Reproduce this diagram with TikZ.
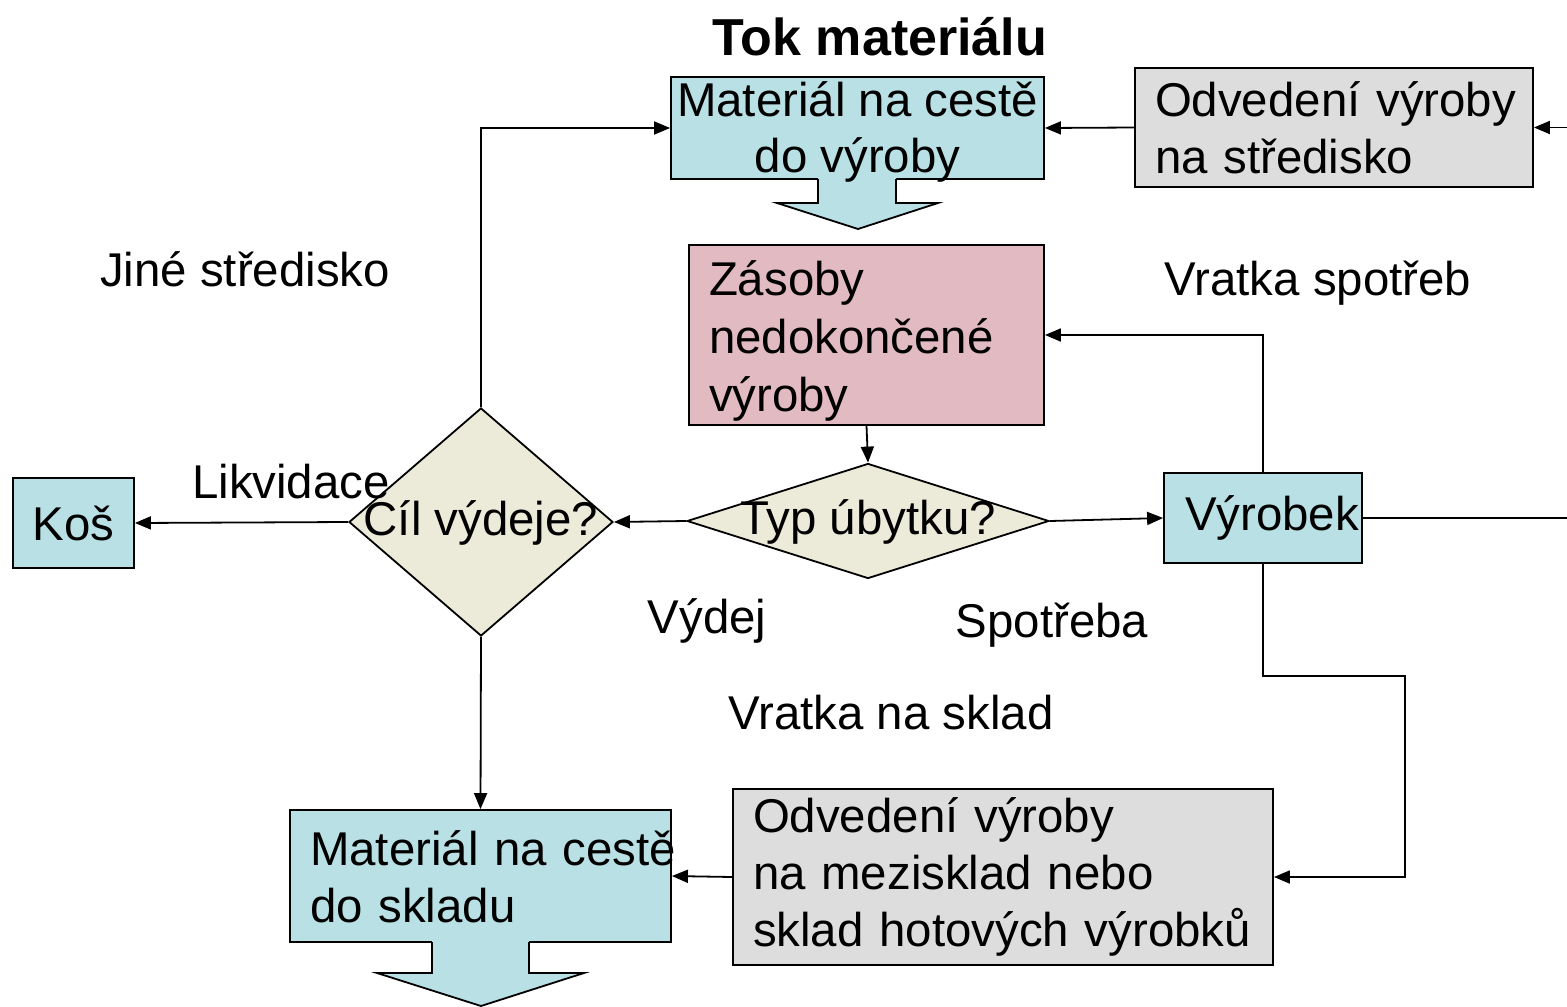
\documentclass[tikz,border=0pt]{standalone}
\usepackage{fontspec}
\setmainfont{Liberation Sans}
\usetikzlibrary{shapes.geometric,arrows.meta}
\definecolor{cblue}{RGB}{185,224,228}
\definecolor{cgray}{RGB}{221,221,221}
\definecolor{cpink}{RGB}{226,186,193}
\definecolor{cdia}{RGB}{236,234,216}
\newcommand\fsz{\fontsize{23.7}{28.4}\selectfont}
\newcommand\fszc{\fontsize{23.7}{29}\selectfont}
\begin{document}
\begin{tikzpicture}[x=0.5pt,y=-0.5pt,
  box/.style={draw, line width=0.9pt, inner ysep=0pt, font=\fsz},
  lbox/.style={box, align=left, inner xsep=10pt},
  cbox/.style={box, align=center, inner xsep=0pt},
  dia/.style={draw, line width=0.9pt, diamond, fill=cdia, inner sep=0pt},
  conn/.style={line width=0.9pt, -{Triangle[length=8pt,width=6.5pt]}},
  plain/.style={line width=0.9pt},
  lbl/.style={font=\fsz, inner sep=0pt}]
\useasboundingbox (0,0) rectangle (1567,1006);
\fill[white] (0,0) rectangle (1567,1006);

% title
\node[font=\fontsize{26}{30}\selectfont\bfseries, inner sep=0pt] (title) at (880,37) {Tok materiálu};

% boxes
\node[cbox, fill=cblue, minimum width=186.5pt, minimum height=51pt] (a) at (857.5,128) {};
\node[lbox, fill=cgray, text width=179pt, minimum height=59.5pt] (b) at (1334,127.5) {\mbox{Odvedení výroby}\\\mbox{na středisko}};
\node[lbox, fill=cpink, text width=157.5pt, minimum height=90pt] (c) at (866.5,335) {};
\node[lbox, draw=none, text width=157.5pt, font=\fszc] (ctext) at (866.5,341) {\mbox{Zásoby}\\\mbox{nedokončené}\\\mbox{výroby}};
\node[cbox, fill=cblue, minimum width=60.5pt, minimum height=45pt] (f) at (73.5,523) {Koš};
\node[lbox, fill=cblue, text width=170.5pt, minimum height=66pt] (g) at (480.5,876) {};
\node[cbox, fill=cblue, minimum width=99pt, minimum height=45pt] (h) at (1263,518) {\hspace*{9pt}Výrobek};
\node[lbox, fill=cgray, text width=250pt, minimum height=88pt] (i) at (1003,877) {\mbox{Odvedení výroby}\\\mbox{na mezisklad nebo}\\\mbox{sklad hotových výrobků}};

% block arrows
\fill[cblue] (818,177) -- (818,203) -- (777,203) -- (858,229) -- (938,203) -- (896,203) -- (896,177) -- cycle;
\draw[plain] (818,179) -- (818,203) -- (777,203) -- (858,229) -- (938,203) -- (896,203) -- (896,179);
\fill[cblue] (432,940) -- (432,973) -- (377,973) -- (481,1006) -- (584,973) -- (529,973) -- (529,940) -- cycle;
\draw[plain] (432,942) -- (432,973) -- (377,973) -- (481,1006) -- (584,973) -- (529,973) -- (529,942);
% texts over the arrow fills
\node[cbox, draw=none, minimum width=186.5pt, minimum height=51pt] (atext) at (857.5,132) {Materiál na cestě\\do výroby};
\node[lbox, draw=none, text width=170.5pt, minimum height=66pt] (gtext) at (480.5,877) {\mbox{Materiál na cestě}\\\mbox{do skladu}};

% diamonds
\node[dia, minimum width=181pt, minimum height=57.5pt] (d) at (868,521) {};
\node[lbl] (dtext) at (868,522) {Typ úbytku?};
\node[dia, minimum width=132pt, minimum height=114pt] (e) at (481,522) {};
\node[lbl] (etext) at (481,523) {Cíl výdeje?};

% free ends and bends
\coordinate (rin) at (1567,127.5);
\coordinate (rout) at (1567,518);
\coordinate (b1) at (1263,676);
\coordinate (b2) at (1405,676);

% connectors
\draw[conn] (b.west) -- (a.east);
\draw[conn] (rin) -- (b.east);
\draw[conn] (c.south) -- (d.north);
\draw[conn] (d.west) -- (e.east);
\draw[conn] (e.west) -- (f.east);
\draw[conn] (e.north) |- (a.west);
\draw[conn] (e.south) -- (g.north);
\draw[conn] (d.east) -- (h.west);
\draw[plain] (h.east) -- (rout);
\draw[conn] (h.north) |- (c.east);
\draw[conn] (h.south) -- (b1) -- (b2) |- (i.east);
\draw[conn] (i.west) -- (g.east);

% labels
\node[lbl] (l1) at (245,269) {Jiné středisko};
\node[lbl] (l2) at (291,482) {Likvidace};
\node[lbl] (l3) at (707,621) {Výdej};
\node[lbl] (l4) at (1052,625) {Spotřeba};
\node[lbl] (l5) at (891,713) {Vratka na sklad};
\node[lbl] (l6) at (1318,283) {Vratka spotřeb};
\end{tikzpicture}
\end{document}
